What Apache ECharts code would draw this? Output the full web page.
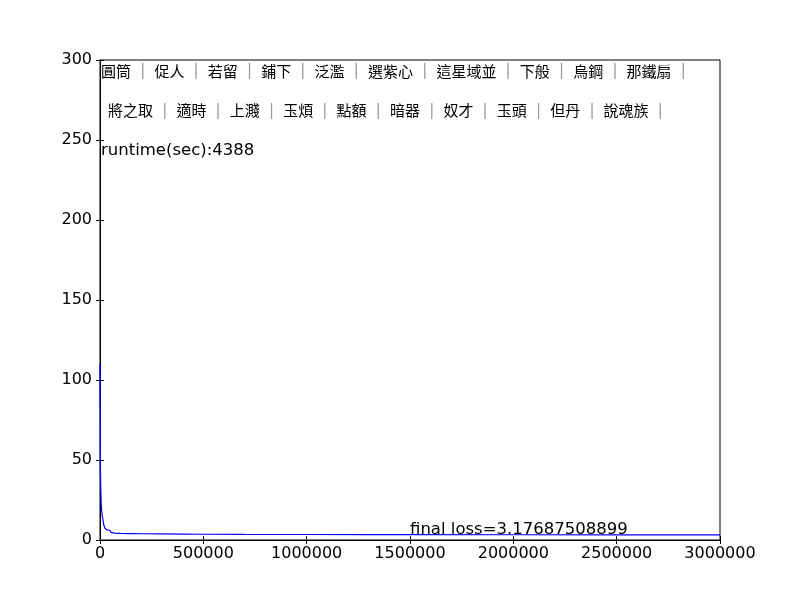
<!DOCTYPE html>
<html>
<head>
<meta charset="utf-8">
<script src="https://cdn.jsdelivr.net/npm/echarts@6/dist/echarts.min.js"></script>
<style>html,body{margin:0;padding:0;background:#fff}#c{width:800px;height:600px}</style>
</head>
<body>
<div id="c"></div>
<script>
// Data
const iterations = [0, 1000, 2000, 4000, 6000, 8000, 11000, 14500, 18000, 24000, 30000, 34000, 40000, 48000, 53000, 60000, 70000, 85000, 100000, 150000, 200000, 300000, 400000, 500000, 700000, 1000000, 1300000, 1500000, 2000000, 2500000, 3000000];
const lossValues = [110, 80, 45, 30, 22, 18.5, 15, 12.5, 9.5, 7.3, 6.6, 6.3, 6.2, 6.1, 4.8, 4.5, 4.3, 4.2, 4.1, 4.0, 3.9, 3.8, 3.7, 3.6, 3.5, 3.45, 3.4, 3.35, 3.28, 3.22, 3.18];
const row1Words = ['圓筒', '促人', '若留', '鋪下', '泛濫', '選紫心', '這星域並', '下般', '烏鋼', '那鐵扇'];
const row2Words = ['將之取', '適時', '上濺', '玉煩', '點額', '暗器', '奴才', '玉頭', '但丹', '說魂族'];
const runtimeText = 'runtime(sec):4388';
const finalLossText = 'final loss=3.17687508899';
const xTicks = [0, 500000, 1000000, 1500000, 2000000, 2500000, 3000000];
const yTicks = [0, 50, 100, 150, 200, 250, 300];

const chart = echarts.init(document.getElementById('c'));
const labelFont = {fontFamily: 'DejaVu Sans', fontSize: 16, color: '#000'};
const cjkFont = 'Noto Sans CJK TC';

function rowText(words) {
  return words.map(w => '{w|' + w + '}{s||}').join('');
}

const axisCommon = {
  axisLine: {show: true, lineStyle: {color: '#000', width: 1}},
  axisTick: {show: true, inside: true, length: 4, lineStyle: {color: '#000'}},
  splitLine: {show: false}
};

chart.setOption({
  animation: false,
  backgroundColor: '#fff',
  grid: {left: 100, right: 80, top: 60, bottom: 60, show: true, borderColor: '#000', borderWidth: 1},
  xAxis: [
    Object.assign({type: 'value', min: xTicks[0], max: xTicks[xTicks.length-1], interval: 500000,
      axisLabel: Object.assign({margin: 6, formatter: v => String(v)}, labelFont)}, axisCommon),
    Object.assign({type: 'value', position: 'top', min: xTicks[0], max: xTicks[xTicks.length-1], interval: 500000,
      axisLabel: {show: false}}, axisCommon)
  ],
  yAxis: [
    Object.assign({type: 'value', min: yTicks[0], max: yTicks[yTicks.length-1], interval: 50,
      axisLabel: Object.assign({margin: 8}, labelFont)}, axisCommon),
    Object.assign({type: 'value', position: 'right', min: yTicks[0], max: yTicks[yTicks.length-1], interval: 50,
      axisLabel: {show: false}}, axisCommon)
  ],
  series: [
    {
      type: 'line',
      data: iterations.map((x, i) => [x, lossValues[i]]),
      showSymbol: false,
      lineStyle: {color: '#0000ff', width: 1.2},
      z: 1
    }
  ]
});

function textAt(coord, str, font, size, dx, dy, rich) {
  const p = chart.convertToPixel({gridIndex: 0}, coord);
  const style = {text: str, fontFamily: font, fontSize: size, fill: '#000', align: 'left', verticalAlign: 'bottom'};
  if (rich) style.rich = rich;
  return {type: 'text', x: p[0] + (dx || 0), y: p[1] + (dy || 0), z: 10, style: style};
}

const rowRich = {
  w: {fontFamily: cjkFont, fontSize: 15, fill: '#000'},
  s: {fontFamily: 'DejaVu Sans', fontSize: 15, fill: '#999', width: 23.4, align: 'center'}
};

chart.setOption({
  graphic: [
    textAt([1500000, 3.18], finalLossText, 'DejaVu Sans', 16.5, 0, 3),
    textAt([0, 238], runtimeText, 'DejaVu Sans', 16.5, 1, 0),
    textAt([0, 287], rowText(row1Words), cjkFont, 15, 1, -2, rowRich),
    textAt([0, 263], rowText(row2Words), cjkFont, 15, 8, -1, rowRich)
  ]
});
</script>
</body>
</html>
